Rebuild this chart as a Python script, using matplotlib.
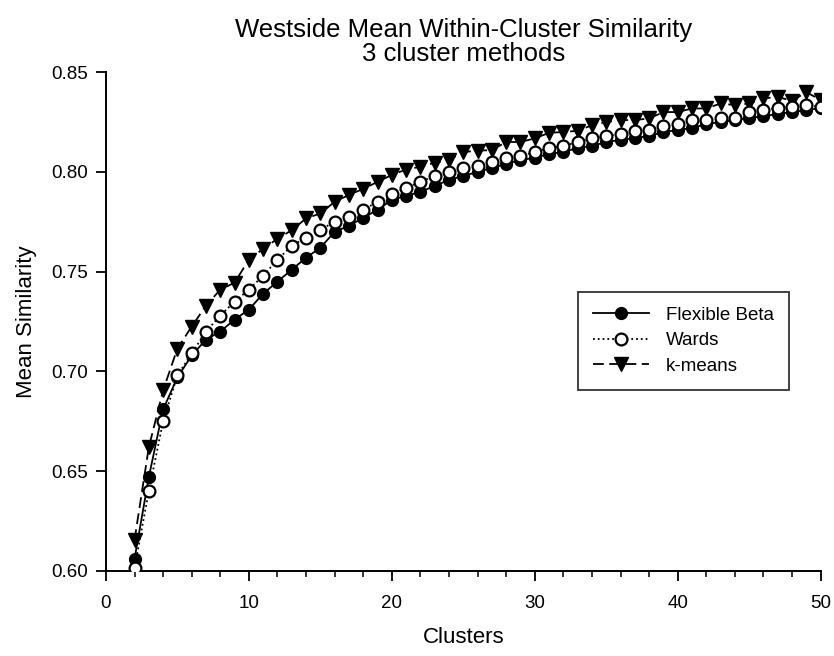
import numpy as np
import matplotlib
matplotlib.use("Agg")
import matplotlib.pyplot as plt
from matplotlib.ticker import MultipleLocator, FormatStrFormatter

plt.rcParams["font.family"] = ["Liberation Sans", "DejaVu Sans"]

clusters = list(range(2, 51))

flexible_beta = [
    0.606, 0.647, 0.681, 0.697, 0.708, 0.716, 0.720, 0.726, 0.731, 0.739,
    0.745, 0.751, 0.757, 0.762, 0.770, 0.773, 0.777, 0.781, 0.786, 0.788,
    0.790, 0.793, 0.796, 0.798, 0.800, 0.802, 0.804, 0.806, 0.807, 0.809,
    0.810, 0.812, 0.813, 0.815, 0.816, 0.817, 0.818, 0.820, 0.821, 0.822,
    0.824, 0.825, 0.826, 0.827, 0.828, 0.829, 0.830, 0.831, 0.832,
]
wards = [
    0.6015, 0.640, 0.675, 0.698, 0.709, 0.720, 0.728, 0.735, 0.741, 0.748,
    0.756, 0.763, 0.767, 0.771, 0.775, 0.7775, 0.781, 0.785, 0.789, 0.792,
    0.795, 0.798, 0.800, 0.802, 0.803, 0.805, 0.807, 0.808, 0.810, 0.812,
    0.813, 0.815, 0.817, 0.818, 0.819, 0.8205, 0.821, 0.823, 0.824, 0.826,
    0.826, 0.827, 0.827, 0.830, 0.831, 0.832, 0.8325, 0.8335, 0.8325,
]
kmeans = [
    0.6155, 0.662, 0.6905, 0.7115, 0.7225, 0.733, 0.741, 0.7445, 0.756, 0.7615,
    0.7665, 0.7708, 0.7767, 0.7792, 0.785, 0.7885, 0.7915, 0.795, 0.7985, 0.8012,
    0.8026, 0.8046, 0.806, 0.810, 0.8106, 0.811, 0.815, 0.815, 0.8168, 0.8196,
    0.820, 0.8206, 0.8234, 0.825, 0.826, 0.826, 0.8268, 0.830, 0.830, 0.8318,
    0.8318, 0.8343, 0.8335, 0.8343, 0.8368, 0.8376, 0.8356, 0.840, 0.836,
]

fig = plt.figure(figsize=(8.34, 6.56), dpi=100)
ax = fig.add_axes([0.127, 0.1296, 0.857, 0.7604])

ax.plot(clusters, flexible_beta, color="black", lw=1.3, ls="-", marker="o",
        ms=8.5, mfc="black", mec="black", label="Flexible Beta", zorder=3)
ax.plot(clusters, wards, color="black", lw=1.3, ls=":", marker="o",
        ms=8.5, mfc="white", mec="black", mew=1.6, label="Wards", zorder=4)
ax.plot(clusters, kmeans, color="black", lw=1.3, ls=(0, (6, 3)), marker="v",
        ms=9.5, mfc="black", mec="black", label="k-means", zorder=2)

ax.set_xlim(0, 50)
ax.set_ylim(0.60, 0.85)
ax.xaxis.set_major_locator(MultipleLocator(10))
ax.xaxis.set_minor_locator(MultipleLocator(2))
ax.yaxis.set_major_locator(MultipleLocator(0.05))
ax.yaxis.set_major_formatter(FormatStrFormatter("%.2f"))

for side in ["top", "right"]:
    ax.spines[side].set_visible(False)
for side in ["left", "bottom"]:
    ax.spines[side].set_linewidth(1.4)
ax.tick_params(which="major", direction="out", length=7, width=1.3, labelsize=13.5)
ax.tick_params(axis="x", which="major", pad=10)
ax.tick_params(axis="y", which="major", pad=6)
ax.tick_params(which="minor", direction="out", length=4, width=1.1)

ax.set_xlabel("Clusters", fontsize=16, labelpad=11)
ax.set_ylabel("Mean Similarity", fontsize=16, labelpad=10)
ax.set_title("Westside Mean Within-Cluster Similarity\n3 cluster methods", fontsize=18.5,
             linespacing=0.98, pad=8)

# legend box roughly spans x 578-792, y 292-390 px in the reference
leg = ax.legend(loc="upper left", bbox_to_anchor=(0.66, 0.56), fontsize=13.5,
                frameon=True, fancybox=False, handlelength=3.0, borderpad=0.8,
                labelspacing=0.45, handletextpad=0.9, borderaxespad=0)
leg.get_frame().set_edgecolor("black")
leg.get_frame().set_linewidth(1.3)

fig.savefig("out.png", dpi=100)
